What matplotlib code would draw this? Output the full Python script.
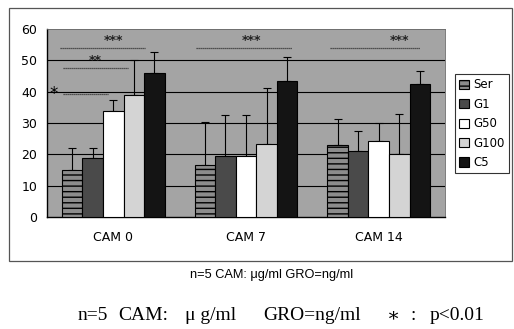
import matplotlib.pyplot as plt
import matplotlib.patches as mpatches
import numpy as np

groups = ["CAM 0", "CAM 7", "CAM 14"]
series = ["Ser", "G1", "G50", "G100", "C5"]
means = {
    "Ser": [15, 16.5, 23],
    "G1": [18.7, 19.5, 21],
    "G50": [33.8, 19.5, 24.2],
    "G100": [39, 23.2, 20],
    "C5": [46, 43.4, 42.3],
}
tops = {
    "Ser": [22, 30.4, 31.4],
    "G1": [22, 32.5, 27.3],
    "G50": [37.2, 32.5, 30],
    "G100": [50, 41.2, 33],
    "C5": [52.8, 51, 46.7],
}
colors = {"Ser": "#8c8c8c", "G1": "#4a4a4a", "G50": "#ffffff",
          "G100": "#d4d4d4", "C5": "#141414"}
hatches = {"Ser": "---", "G1": None, "G50": None, "G100": None, "C5": None}

# significance marks: label, y, x from, x to, label x
sig_labels = ["*", "**", "***", "***", "***"]
sig_y = [39.2, 47.7, 54, 54, 54]
sig_x0 = [-0.38, -0.38, -0.40, 0.62, 1.63]
sig_x1 = [-0.04, 0.11, 0.24, 1.35, 2.31]
sig_tx = [-0.45, -0.14, 0.0, 1.04, 2.16]

# footnote pieces (text, left edge in px)
foot_tokens = ["n=5", "CAM:", "μ g/ml", "GRO=ng/ml", "∗", ":", "p<0.01"]
foot_x = [78, 118, 185, 263, 387, 411, 430]

W, H = 514, 329
fig = plt.figure(figsize=(W / 100, H / 100), dpi=100)
fig.patch.set_facecolor("white")

# outer frame
fig.patches.append(mpatches.Rectangle((9 / W, 1 - 261 / H), (512 - 9) / W, (261 - 8) / H,
                                      transform=fig.transFigure, fill=False,
                                      edgecolor="#555555", linewidth=0.9))

ax = fig.add_axes([47 / W, 1 - 217 / H, (445 - 47) / W, (217 - 29) / H])
ax.set_facecolor("#a4a4a4")

x = np.arange(len(groups))
bw = 0.155
handles = []
for i, s in enumerate(series):
    pos = x + (i - 2) * bw
    m = np.array(means[s])
    err = np.array(tops[s]) - m
    b = ax.bar(pos, m, bw, color=colors[s], edgecolor="black", linewidth=0.8,
               hatch=hatches[s], zorder=3, label=s)
    ax.errorbar(pos, m, yerr=[np.zeros_like(err), err], fmt="none", ecolor="black",
                elinewidth=0.8, capsize=3, capthick=0.8, zorder=2)
    handles.append(b)

for yv in range(10, 60, 10):
    ax.axhline(yv, color="black", linewidth=0.8, zorder=1)

for lab, yv, a, b_, tx in zip(sig_labels, sig_y, sig_x0, sig_x1, sig_tx):
    ax.plot([a, b_], [yv, yv], color="#333333", linewidth=0.9, linestyle=(0, (1, 0.6)), zorder=1.5)
    if lab == "*":
        ax.text(tx, yv, lab, ha="center", va="center", fontsize=12, color="black")
    else:
        ax.text(tx, yv + 0.3, lab, ha="center", va="bottom", fontsize=9,
                fontweight="bold", color="#222222")

ax.set_xlim(-0.5, 2.5)
ax.set_ylim(0, 60)
ax.set_yticks(range(0, 61, 10))
ax.set_xticks(x)
ax.set_xticklabels(groups)
ax.tick_params(axis="both", length=0, labelsize=9, pad=7)
ax.tick_params(axis="x", pad=10)
for sp in ["top", "right"]:
    ax.spines[sp].set_color("#666666")
    ax.spines[sp].set_linewidth(0.6)
for sp in ["left", "bottom"]:
    ax.spines[sp].set_color("black")
    ax.spines[sp].set_linewidth(1.0)

leg = fig.legend(handles=handles, labels=series, loc="upper left",
                 bbox_to_anchor=(455 / W, 1 - 74 / H), fontsize=8.5,
                 frameon=True, fancybox=False, edgecolor="black",
                 handlelength=0.8, handleheight=0.8, handletextpad=0.4,
                 borderpad=0.35, labelspacing=0.55, borderaxespad=0)
leg.get_frame().set_linewidth(0.8)

fig.text(190 / W, 1 - 275 / H, "n=5 CAM: μg/ml GRO=ng/ml", ha="left", va="center",
         fontsize=9.2, family="Liberation Sans")
for tok, px in zip(foot_tokens, foot_x):
    fig.text(px / W, 1 - 316 / H, tok, ha="left", va="center",
             fontsize=14, family=["Liberation Serif", "DejaVu Serif"])

fig.savefig("out.png", dpi=100)
